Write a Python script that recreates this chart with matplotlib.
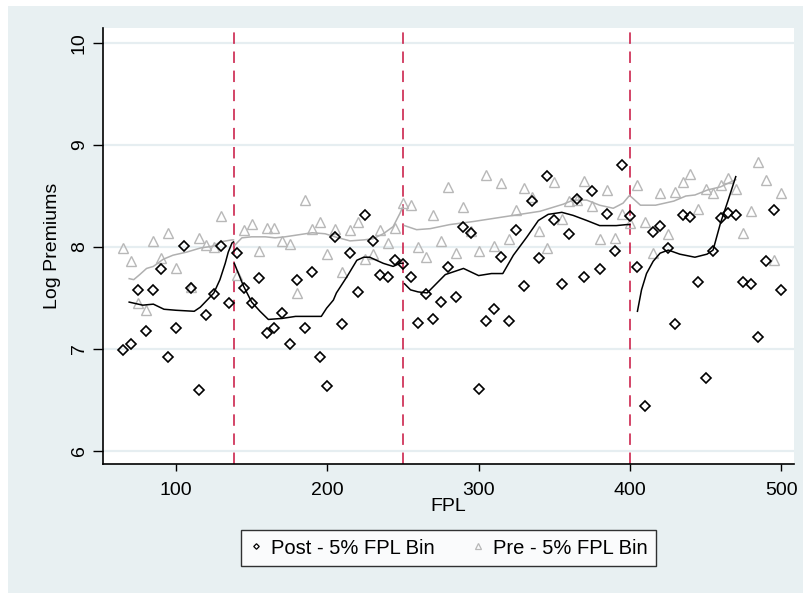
import matplotlib
matplotlib.use("Agg")
import matplotlib.pyplot as plt
from matplotlib.lines import Line2D
from matplotlib.patches import Rectangle

plt.rcParams['font.family'] = ['Liberation Sans', 'DejaVu Sans']

# ---- binned means (5% FPL bins) ----
post_fpl = [65, 70, 75, 80, 85, 90, 95, 100, 105, 110, 115, 120, 125, 130, 135,
            140, 145, 150, 155, 160, 165, 170, 175, 180, 185, 190, 195, 200, 205,
            210, 215, 220, 225, 230, 235, 240, 245, 250, 255, 260, 265, 270, 275,
            280, 285, 290, 295, 300, 305, 310, 315, 320, 325, 330, 335, 340, 345,
            350, 355, 360, 365, 370, 375, 380, 385, 390, 395, 400, 405, 410, 415,
            420, 425, 430, 435, 440, 445, 450, 455, 460, 465, 470, 475, 480, 485,
            490, 495, 500]
post_logprem = [6.99, 7.05, 7.58, 7.18, 7.58, 7.78, 6.92, 7.21, 8.01, 7.60, 6.60,
                7.33, 7.54, 8.01, 7.45, 7.94, 7.60, 7.45, 7.70, 7.16, 7.21, 7.35,
                7.05, 7.68, 7.21, 7.76, 6.92, 6.64, 8.10, 7.25, 7.94, 7.56, 8.31,
                8.06, 7.73, 7.71, 7.87, 7.83, 7.71, 7.26, 7.54, 7.29, 7.46, 7.80,
                7.51, 8.20, 8.14, 6.61, 7.27, 7.39, 7.90, 7.27, 8.17, 7.62, 8.45,
                7.89, 8.70, 8.26, 7.64, 8.13, 8.47, 7.71, 8.55, 7.78, 8.32, 7.96,
                8.80, 8.30, 7.80, 6.44, 8.15, 8.21, 7.99, 7.25, 8.31, 8.29, 7.66,
                6.72, 7.96, 8.28, 8.33, 8.31, 7.66, 7.64, 7.12, 7.86, 8.36, 7.58]

pre_fpl = [65, 70, 75, 80, 85, 90, 95, 100, 110, 115, 120, 125, 130, 140, 145,
           150, 155, 160, 165, 170, 175, 180, 185, 190, 195, 200, 205, 210, 215,
           220, 225, 230, 235, 240, 245, 250, 255, 260, 265, 270, 275, 280, 285,
           290, 295, 300, 305, 310, 315, 320, 325, 330, 335, 340, 345, 350, 355,
           360, 365, 370, 375, 380, 385, 390, 395, 400, 405, 410, 415, 420, 425,
           430, 435, 440, 445, 450, 455, 460, 465, 470, 475, 480, 485, 490, 495,
           500]
pre_logprem = [7.99, 7.86, 7.45, 7.38, 8.06, 7.89, 8.14, 7.79, 7.61, 8.09, 8.02,
               8.00, 8.30, 7.73, 8.17, 8.23, 7.96, 8.19, 8.19, 8.06, 8.03, 7.55,
               8.46, 8.18, 8.25, 7.93, 8.18, 7.76, 8.17, 8.25, 7.88, 7.93, 8.17,
               8.04, 8.19, 8.43, 8.41, 8.00, 7.90, 8.31, 8.06, 8.59, 7.94, 8.39,
               8.16, 7.96, 8.71, 8.01, 8.63, 8.08, 8.36, 8.58, 8.49, 8.16, 7.99,
               8.64, 8.27, 8.45, 8.46, 8.65, 8.40, 8.08, 8.56, 8.09, 8.32, 8.24,
               8.61, 8.25, 7.94, 8.53, 8.13, 8.54, 8.64, 8.72, 8.37, 8.57, 8.53,
               8.61, 8.68, 8.57, 8.14, 8.35, 8.83, 8.66, 7.87, 8.53]

# ---- smoothed fits, one piece per FPL segment ----
post_fit = [
    ([69, 78, 85, 92, 100, 112, 116, 122.5, 125, 129, 132.5, 134.5, 137, 138],
     [7.46, 7.43, 7.44, 7.39, 7.38, 7.37, 7.41, 7.51, 7.55, 7.68, 7.84, 7.95, 8.04, 8.05]),
    ([138.5, 144.5, 150, 155.5, 161, 170, 179, 190, 196, 199.5, 204, 206, 213, 219.5,
      224, 228, 237, 243.5, 248, 250],
     [7.84, 7.62, 7.46, 7.37, 7.29, 7.30, 7.32, 7.32, 7.32, 7.40, 7.48, 7.55, 7.71, 7.87,
      7.90, 7.90, 7.84, 7.81, 7.84, 7.84]),
    ([251, 255, 260, 266, 272, 278, 284, 290, 300, 308.5, 316, 323, 332, 339.5, 346, 355,
      362.5, 371.5, 380, 391, 398, 400],
     [7.64, 7.58, 7.56, 7.55, 7.64, 7.73, 7.76, 7.79, 7.72, 7.74, 7.74, 7.92, 8.10, 8.26,
      8.32, 8.34, 8.31, 8.26, 8.21, 8.21, 8.22, 8.22]),
    ([405, 407.7, 411, 415.4, 420, 425.4, 433, 443, 451, 455, 460, 465, 470],
     [7.37, 7.58, 7.74, 7.86, 7.94, 7.97, 7.93, 7.90, 7.93, 7.97, 8.24, 8.46, 8.69]),
]
pre_fit = [
    ([69, 72, 76, 80.5, 85, 91.5, 98, 107, 116, 125, 129, 137, 138],
     [7.69, 7.68, 7.73, 7.79, 7.81, 7.88, 7.92, 7.95, 7.99, 8.01, 8.05, 8.07, 8.07]),
    ([139, 143.5, 150, 159, 165.5, 172, 181, 190, 198.5, 205, 215, 224, 230, 237, 243.5,
      248, 250],
     [8.02, 8.09, 8.10, 8.10, 8.09, 8.10, 8.12, 8.14, 8.13, 8.10, 8.06, 8.07, 8.08, 8.13,
      8.20, 8.33, 8.40]),
    ([251, 259, 268, 281, 296.5, 318.5, 340.5, 356, 362.5, 371.5, 380, 389, 395.5, 400],
     [8.21, 8.17, 8.18, 8.22, 8.25, 8.30, 8.35, 8.42, 8.46, 8.46, 8.41, 8.38, 8.43, 8.51]),
    ([401, 407, 417, 429, 437, 443, 451.5, 460, 467, 470],
     [8.49, 8.41, 8.41, 8.45, 8.50, 8.51, 8.56, 8.59, 8.64, 8.66]),
]

cutoffs = [138, 250, 400]
x_ticks = [100, 200, 300, 400, 500]
y_ticks = [6, 7, 8, 9, 10]

BG = '#e8f0f2'
GRID = '#e6eef1'
PRE_GRAY = '#b8b8b8'
PRE_LINE = '#b0b0b0'
CUT_RED = '#c8123e'

fig = plt.figure(figsize=(8.04, 5.93), dpi=100)
fig.patch.set_facecolor('white')
fig.patches.append(Rectangle((8 / 804, 0), 1 - 8 / 804, 1 - 6 / 593,
                             transform=fig.transFigure, facecolor=BG,
                             edgecolor='none', zorder=-10))

ax = fig.add_axes([103 / 804, 1 - 464 / 593, 691 / 804, 436 / 593])
ax.set_facecolor('white')
ax.set_xlim(51.7, 508.5)
ax.set_ylim(5.873, 10.147)

for s in ['top', 'right']:
    ax.spines[s].set_visible(False)
for s in ['left', 'bottom']:
    ax.spines[s].set_linewidth(1.2)
    ax.spines[s].set_color('black')

ax.set_yticks(y_ticks)
ax.set_xticks(x_ticks)
ax.set_yticklabels([str(v) for v in y_ticks], rotation=90, va='center')
ax.tick_params(axis='y', length=7, width=1.0, pad=4, labelsize=14)
ax.tick_params(axis='x', length=5, width=1.0, pad=8, labelsize=14)
ax.yaxis.grid(True, color=GRID, linewidth=1.6)
ax.set_axisbelow(True)

for c in cutoffs:
    ax.axvline(c, color=CUT_RED, linewidth=1.1, dashes=(7.5, 5), zorder=1)

ax.plot(pre_fpl, pre_logprem, linestyle='none', marker='^', markersize=7.3,
        markerfacecolor='none', markeredgecolor=PRE_GRAY, markeredgewidth=1.0, zorder=2)
for fx, fy in pre_fit:
    ax.plot(fx, fy, color=PRE_LINE, linewidth=1.1, zorder=3)

ax.plot(post_fpl, post_logprem, linestyle='none', marker='D', markersize=5.0,
        markerfacecolor='none', markeredgecolor='black', markeredgewidth=1.2, zorder=4)
for fx, fy in post_fit:
    ax.plot(fx, fy, color='black', linewidth=1.1, zorder=5)

ax.set_xlabel('FPL', fontsize=14, labelpad=-1)
ax.set_ylabel('Log Premiums', fontsize=14, labelpad=7)

handles = [
    Line2D([], [], linestyle='none', marker='D', markersize=2.8,
           markerfacecolor='none', markeredgecolor='black', markeredgewidth=0.9),
    Line2D([], [], linestyle='none', marker='^', markersize=4.2,
           markerfacecolor='none', markeredgecolor=PRE_GRAY, markeredgewidth=0.9),
]
leg = fig.legend(handles, ['Post - 5% FPL Bin', 'Pre - 5% FPL Bin'],
                 loc='center', bbox_to_anchor=(448.5 / 804, 1 - 548 / 593),
                 ncol=2, fontsize=14.5, frameon=True, fancybox=False,
                 borderpad=0.4, handlelength=0.65, handletextpad=0.45,
                 columnspacing=1.8, borderaxespad=0)
leg.get_frame().set_edgecolor('black')
leg.get_frame().set_linewidth(1.0)
leg.get_frame().set_facecolor('white')

fig.savefig('out.png', dpi=100, facecolor=fig.get_facecolor())
